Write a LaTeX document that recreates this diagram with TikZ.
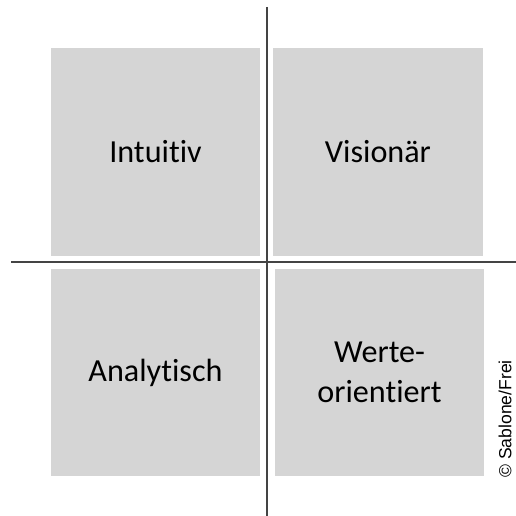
\documentclass[tikz,border=0pt]{standalone}
\usepackage{fontspec}
\setmainfont[Ligatures={NoCommon}]{Carlito}
\newfontfamily\creditfont{Liberation Sans}
\definecolor{boxgray}{HTML}{D5D5D5}
\definecolor{axisgray}{HTML}{444444}
\tikzset{
  quadrant/.style={fill=boxgray, minimum width=4.2cm, minimum height=4.16cm,
    inner sep=0pt, align=center, font=\fontsize{18.3}{22.7}\selectfont},
  axis/.style={draw=axisgray, line width=1.4pt}
}
\begin{document}
\begin{tikzpicture}[x=0.02cm, y=-0.02cm]
    \useasboundingbox (0,0) rectangle (516,516);
    % Quadrants
    \node[quadrant] (intuitiv) at (155.5,152) {Intuitiv};
    \node[quadrant] (visionaer) at (378,152) {Visionär};
    \node[quadrant] (analytisch) at (155.5,372.5) {Analytisch};
    \node[quadrant] (werte) at (379.5,372.5) {Werte-\\orientiert};
    % Axes
    \coordinate (top) at (267,7);
    \coordinate (bottom) at (267,516);
    \coordinate (left) at (11,262);
    \coordinate (right) at (516,262);
    \draw[axis] (top) -- (bottom);
    \draw[axis] (left) -- (right);
    % Credit line
    \node[rotate=90, font=\creditfont\fontsize{10}{12}\selectfont, inner sep=0pt]
      (credit) at (505,419) {© Sablone/Frei};
\end{tikzpicture}
\end{document}
